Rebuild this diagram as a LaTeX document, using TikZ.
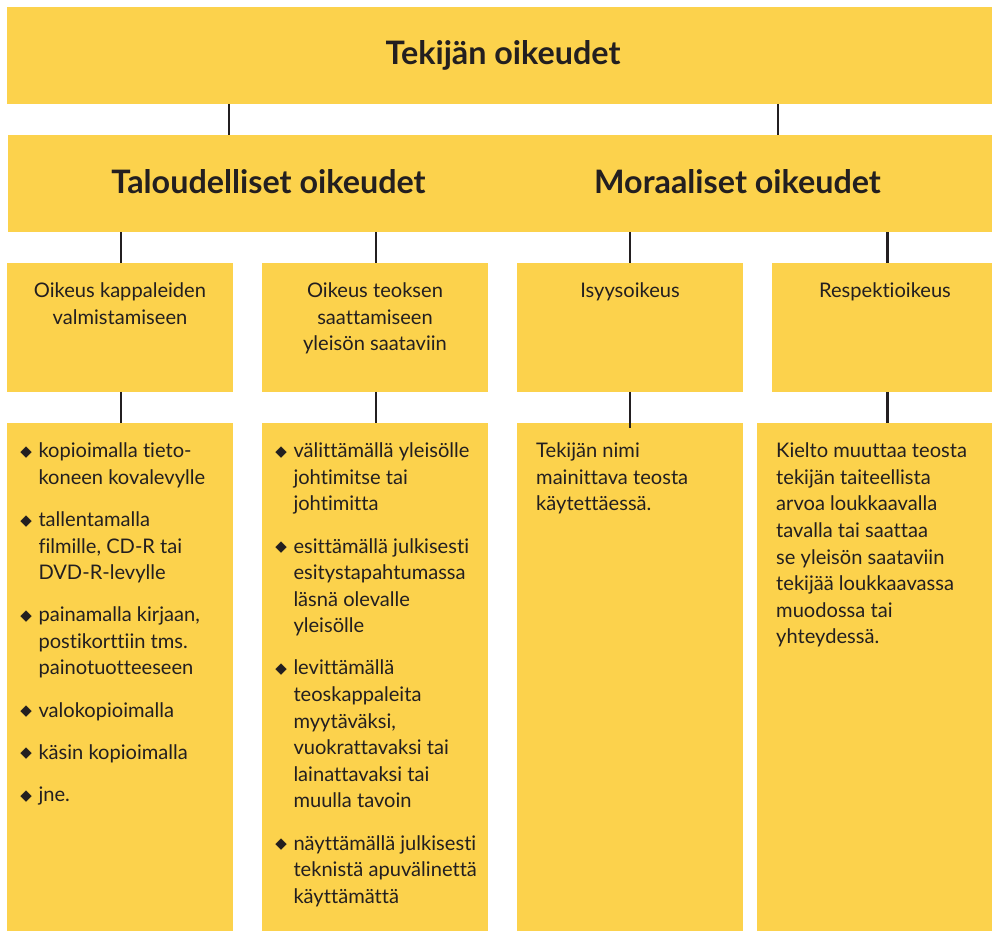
\documentclass[tikz,border=0pt]{standalone}
\usepackage{fontspec}
\setmainfont{Lato}[Ligatures=NoCommon]
\newfontfamily\symfont{DejaVu Sans}
\definecolor{yel}{HTML}{FCD24C}
\definecolor{ink}{HTML}{231F20}
\newcommand\mytextbox[2]{\parbox[t]{#1}{#2}}
\newcommand\bul{\leavevmode\llap{\raisebox{1.2pt}{\symfont\fontsize{15}{15}\selectfont ◆}\hspace{6.5pt}}}
\newcommand\gap{\\[15.5pt]}
\tikzset{
  ybox/.style={fill=yel, draw=none, inner sep=0pt, anchor=north west},
  conn/.style={draw=ink, line width=2.5pt},
  bigtxt/.style={anchor=base, inner sep=0pt, text=ink, font=\fontsize{32.3}{38}\selectfont\bfseries},
  bodytxt/.style={inner sep=0pt, text=ink, font=\fontsize{20.1}{26.6}\selectfont},
}
\begin{document}
\begin{tikzpicture}[x=1pt,y=-1pt]
\useasboundingbox[fill=white] (0,0) rectangle (992,931);
% boxes
\node[ybox, minimum width=985pt, minimum height=96.5pt] (top) at (7,7) {};
\node[ybox, minimum width=984pt, minimum height=97pt] (band) at (8,135) {};
\node[ybox, minimum width=226pt, minimum height=128.5pt] (r3a) at (7,263) {};
\node[ybox, minimum width=226pt, minimum height=128.5pt] (r3b) at (262,263) {};
\node[ybox, minimum width=226pt, minimum height=128.5pt] (r3c) at (517,263) {};
\node[ybox, minimum width=220pt, minimum height=128.5pt] (r3d) at (772,263) {};
\node[ybox, minimum width=226pt, minimum height=508pt] (r4a) at (7,423) {};
\node[ybox, minimum width=226pt, minimum height=508pt] (r4b) at (262,423) {};
\node[ybox, minimum width=226pt, minimum height=508pt] (r4c) at (517,423) {};
\node[ybox, minimum width=235pt, minimum height=508pt] (r4d) at (757,423) {};
% connector columns
\coordinate (c1) at (229,0);
\coordinate (c2) at (778,0);
\coordinate (ca) at (121,0);
\coordinate (cb) at (376,0);
\coordinate (cc) at (630,0);
\coordinate (cd) at (887.5,0);
\draw[conn] (top.south -| c1) -- (band.north -| c1);
\draw[conn] (top.south -| c2) -- (band.north -| c2);
\draw[conn] (band.south -| ca) -- (r3a.north -| ca);
\draw[conn] (band.south -| cb) -- (r3b.north -| cb);
\draw[conn] (band.south -| cc) -- (r3c.north -| cc);
\draw[conn] (band.south -| cd) -- (r3d.north -| cd);
\draw[conn] (r3a.south -| ca) -- (r4a.north -| ca);
\draw[conn] (r3b.south -| cb) -- (r4b.north -| cb);
\draw[conn] (r3c.south -| cc) -- ([yshift=-5pt]r4c.north -| cc);
\draw[conn] (r3d.south -| cd) -- (r4d.north -| cd);
% headings
\node[bigtxt] (ttl) at (503,65) {Tekijän oikeudet};
\node[bigtxt] (tal) at (268.5,193.3) {Taloudelliset oikeudet};
\node[bigtxt] (mor) at (737.5,193.3) {Moraaliset oikeudet};
% third row texts
\node[bodytxt, anchor=base] (t3a) at (120,297.5) {\mytextbox{220pt}{\centering Oikeus kappaleiden\\valmistamiseen}};
\node[bodytxt, anchor=base] (t3b) at (375,297.5) {\mytextbox{220pt}{\centering Oikeus teoksen\\saattamiseen\\yleisön saataviin}};
\node[bodytxt, anchor=base] (t3c) at (630,297.5) {\mytextbox{220pt}{\centering Isyysoikeus}};
\node[bodytxt, anchor=base] (t3d) at (885,297.5) {\mytextbox{210pt}{\centering Respektioikeus}};
% fourth row texts
\node[bodytxt, anchor=base west] (t4a) at (38.3,457.7) {\mytextbox{192pt}{\raggedright
\bul kopioimalla tieto-\\koneen kovalevylle\gap
\bul tallentamalla\\filmille, CD-R tai\\DVD-R-levylle\gap
\bul painamalla kirjaan,\\postikorttiin tms.\\painotuotteeseen\gap
\bul valokopioimalla\gap
\bul käsin kopioimalla\gap
\bul jne.}};
\node[bodytxt, anchor=base west] (t4b) at (293.3,457.7) {\mytextbox{192pt}{\raggedright
\bul välittämällä yleisölle\\johtimitse tai\\johtimitta\gap
\bul esittämällä julkisesti\\esitystapahtumassa\\läsnä olevalle\\yleisölle\gap
\bul levittämällä\\teoskappaleita\\myytäväksi,\\vuokrattavaksi tai\\lainattavaksi tai\\muulla tavoin\gap
\bul näyttämällä julkisesti\\teknistä apuvälinettä\\käyttämättä}};
\node[bodytxt, anchor=base west] (t4c) at (536,457.7) {\mytextbox{200pt}{\raggedright
Tekijän nimi\\mainittava teosta\\käytettäessä.}};
\node[bodytxt, anchor=base west] (t4d) at (776,457.7) {\mytextbox{210pt}{\raggedright
Kielto muuttaa teosta\\tekijän taiteellista\\arvoa loukkaavalla\\tavalla tai saattaa\\se yleisön saataviin\\tekijää loukkaavassa\\muodossa tai\\yhteydessä.}};
\end{tikzpicture}
\end{document}
